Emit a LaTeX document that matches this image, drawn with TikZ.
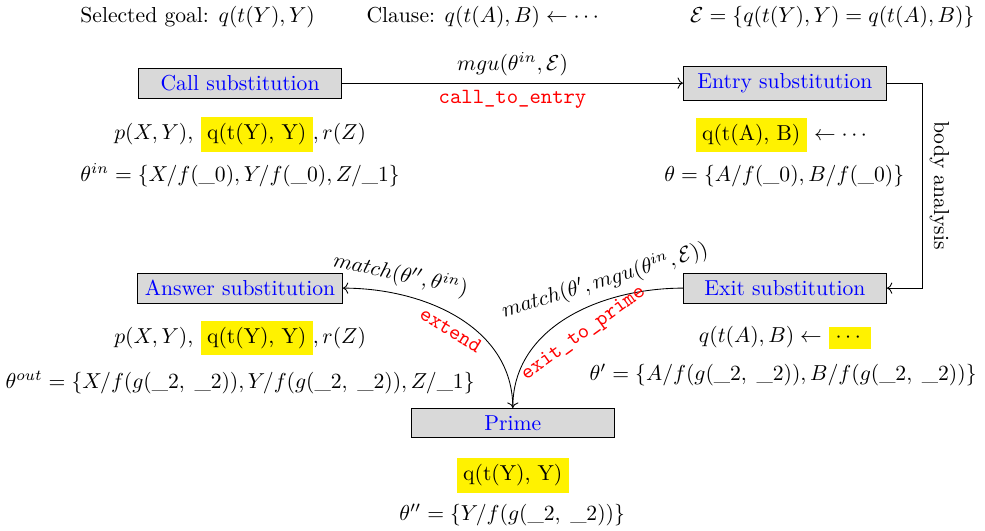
\documentclass[tikz,border=0pt]{standalone}
\usepackage{amsmath, amssymb}
\usepackage{tikz}
\usetikzlibrary{arrows.meta,positioning}
\usepackage{xcolor}

\begin{document}
\begin{tikzpicture}[
        subst/.style={draw, fill=gray!30, minimum width=3.3cm, text=blue},
        flow/.style={->},
        lbl/.style={text=red, font=\ttfamily}
    ]
    \useasboundingbox (0,0) rectangle (16,-8.625);

    \node (hdrgoal) at (3.21,-0.28) {Selected goal: $q(t(Y),Y)$};
    \node (hdrclause) at (7.87,-0.28) {Clause: $q(t(A),B) \leftarrow \cdots$};
    \node (hdreq) at (13.52,-0.28) {$\mathcal{E} = \{q(t(Y),Y) = q(t(A),B)\}$};

    \node[subst] (call) at (3.90,-1.35) {Call substitution};
    \node[subst] (entry) at (12.75,-1.35) {Entry substitution};
    \node[subst] (answer) at (3.90,-4.68) {Answer substitution};
    \node[subst] (exit) at (12.75,-4.68) {Exit substitution};
    \node[subst] (prime) at (8.33,-6.87) {Prime};

    \node (callgoal) at (3.90,-2.18) {$p(X,Y)$, \colorbox{yellow}{q(t(Y), Y)}$,r(Z)$};
    \node (callsubst) at (3.90,-2.84) {$\theta^{in} = \{X/f(\_0), Y/f(\_0), Z/\_1\}$};
    \node (entrygoal) at (12.72,-2.19) {\colorbox{yellow}{q(t(A), B)} $\leftarrow \cdots$};
    \node (entrysubst) at (12.74,-2.86) {$\theta = \{A/f(\_0), B/f(\_0)\}$};
    \node (answergoal) at (3.90,-5.49) {$p(X,Y)$, \colorbox{yellow}{q(t(Y), Y)}$,r(Z)$};
    \node (answersubst) at (3.90,-6.21) {$\theta^{out} = \{X/f(g(\_2,\;\_2)), Y/f(g(\_2,\;\_2)), Z/\_1\}$};
    \node (exitgoal) at (12.75,-5.49) {$q(t(A),B) \leftarrow$ \colorbox{yellow}{$\cdots$}};
    \node (exitsubst) at (12.72,-6.09) {$\theta' = \{A/f(g(\_2,\;\_2)), B/f(g(\_2,\;\_2))\}$};
    \node (primegoal) at (8.33,-7.72) {\colorbox{yellow}{q(t(Y), Y)}};
    \node (primesubst) at (8.32,-8.37) {$\theta'' = \{Y/f(g(\_2,\;\_2))\}$};

    \draw[flow] (call) -- node[above] {$mgu(\theta^{in}, \mathcal{E})$} node[below, lbl] {call\_to\_entry} (entry);
    \draw[flow] (entry.east) -- ++(0.57,0) |- node[pos=0.25, sloped, above] {body analysis} (exit.east);
    \draw[flow] (exit.west) to[out=180, in=90]
        node[pos=0.3, sloped, above] {$match(\theta', mgu(\theta^{in}, \mathcal{E}))$}
        node[pos=0.55, sloped, below, xshift=7pt, yshift=-3pt, lbl] {exit\_to\_prime} (prime.north);
    \draw[flow] (prime.north) to[out=90, in=0]
        node[pos=0.5, sloped, below, lbl] {extend}
        node[pos=0.78, sloped, above] {$match(\theta'', \theta^{in})$} (answer.east);

\end{tikzpicture}
\end{document}
